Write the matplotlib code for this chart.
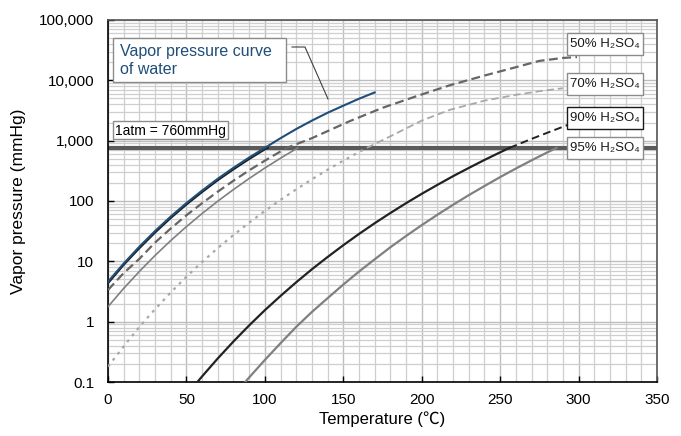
import matplotlib
matplotlib.use("Agg")
import matplotlib.pyplot as plt
from matplotlib.ticker import MultipleLocator, LogLocator, FixedLocator, NullFormatter
from matplotlib.patches import Rectangle
from matplotlib.lines import Line2D

plt.rcParams['font.family'] = ['Liberation Sans', 'Noto Sans CJK JP', 'DejaVu Sans']

# ---------------- data ----------------
t_water = [0, 10, 20, 30, 40, 50, 60, 70, 80, 90, 100, 110, 120, 130, 140, 150, 160, 170]
p_water = [4.6, 9.2, 17.5, 31.8, 55.3, 92.5, 149, 234, 355, 526, 760, 1100, 1560, 2150, 2900, 3800, 4950, 6300]

t_black = [0, 10, 20, 30, 40, 50, 60, 70, 80, 90, 100, 102]
p_black = [4.3, 8.7, 16.4, 29.8, 52, 87, 140, 220, 333, 494, 714, 760]

t_50 = [0, 10, 20, 30, 40, 50, 60, 70, 80, 90, 100, 110, 114, 130, 154, 175, 197, 218, 240, 260, 275, 290, 299]
p_50 = [3.35, 6.4, 11.0, 20.5, 35, 58, 92, 143, 217, 322, 466, 663, 760, 1100, 2100, 3500, 5500, 8300, 12000, 16500, 21000, 23500, 24300]

t_gray = [0, 10, 20, 30, 40, 50, 60, 70, 80, 90, 100, 110, 121]
p_gray = [1.77, 3.56, 6.8, 12.5, 22.1, 37.6, 62, 99.5, 155, 236, 352, 513, 760]

t_70_meas = [0, 10, 20, 30, 40, 50, 60, 70, 80, 90, 100, 110, 120, 130, 140, 150, 160, 165]
p_70_meas = [0.18, 0.39, 0.82, 1.61, 3.05, 5.56, 9.75, 16.6, 27.3, 43.8, 68.4, 104.5, 156, 229, 330, 466, 648, 760]
t_70_ext = [165, 180, 200, 218, 240, 260, 275, 290]
p_70_ext = [760, 1180, 2150, 3250, 4600, 5750, 6600, 7400]

t_90_meas = [57, 60, 70, 80, 90, 100, 110, 120, 130, 140, 150, 160, 170, 180, 190, 200, 210, 220, 230, 240, 250, 256]
p_90_meas = [0.1, 0.124, 0.246, 0.47, 0.867, 1.55, 2.67, 4.5, 7.39, 11.8, 18.5, 28.4, 42.8, 63.2, 91.9, 131.5, 185, 258, 353, 479, 641, 760]
t_90_ext = [256, 270, 280, 293]
p_90_ext = [760, 1070, 1350, 1820]

t_95 = [87.5, 90, 100, 110, 120, 130, 140, 150, 160, 170, 180, 190, 200, 210, 220, 230, 240, 250, 260, 270, 280, 286]
p_95 = [0.1, 0.119, 0.232, 0.44, 0.82, 1.45, 2.45, 4.12, 6.76, 10.8, 17.1, 26.3, 39.8, 59.2, 86.6, 125, 177, 249, 345, 472, 638, 760]

atm = 760
y_ticks = [0.1, 1, 10, 100, 1000, 10000, 100000]
y_tick_labels = ["0.1", "1", "10", "100", "1,000", "10,000", "100,000"]
x_ticks = [0, 50, 100, 150, 200, 250, 300, 350]

label_water = "Vapor pressure curve\nof water"
label_atm = "1atm = 760mmHg"
labels_acid = ["50% H\u2082SO\u2084", "70% H\u2082SO\u2084", "90% H\u2082SO\u2084", "95% H\u2082SO\u2084"]

# ---------------- figure ----------------
W, H = 681, 436
fig = plt.figure(figsize=(W / 100, H / 100), dpi=100)
L, R, T, B = 108, 657, 20, 382
ax = fig.add_axes([L / W, 1 - B / H, (R - L) / W, (B - T) / H])

ax.set_yscale('log')
ax.set_xlim(0, 350)
ax.set_ylim(0.1, 100000)

ax.xaxis.set_major_locator(FixedLocator(x_ticks))
ax.xaxis.set_minor_locator(MultipleLocator(10))
ax.yaxis.set_major_locator(FixedLocator(y_ticks))
ax.set_yticklabels(y_tick_labels)
ax.yaxis.set_minor_locator(LogLocator(base=10, subs=[2, 3, 4, 5, 6, 7, 8, 9], numticks=20))
ax.yaxis.set_minor_formatter(NullFormatter())

ax.grid(True, which='major', color='#bdbdbd', linewidth=1.0, zorder=0)
ax.grid(True, which='minor', color='#cfcfcf', linewidth=0.9, zorder=0)
ax.set_axisbelow(True)

ax.tick_params(which='major', direction='in', length=4, width=1, color='black',
               labelsize=11, pad=10)
ax.tick_params(axis='x', which='major', pad=8)
ax.tick_params(which='minor', length=0)

for s in ['left', 'bottom']:
    ax.spines[s].set_color('black')
    ax.spines[s].set_linewidth(1.2)
for s in ['top', 'right']:
    ax.spines[s].set_color('#555555')
    ax.spines[s].set_linewidth(1.2)

ax.set_xlabel("Temperature (\u2103)", fontsize=12, labelpad=3)
ax.set_ylabel("Vapor pressure (mmHg)", fontsize=12.5, labelpad=9)

# 1 atm line
ax.axhline(atm, color='#5a5a5a', linewidth=3.0, zorder=2)

# curves
ax.plot(t_gray, p_gray, color='#808080', linewidth=1.2, zorder=3)
ax.plot(t_50, p_50, color='#666666', linewidth=1.6, dashes=(4, 2), zorder=3)
ax.plot(t_70_meas, p_70_meas, color='#a8a8a8', linewidth=1.6, dashes=(1.3, 2.2), zorder=3)
ax.plot(t_70_ext, p_70_ext, color='#a8a8a8', linewidth=1.3, dashes=(4, 2.2), zorder=3)
ax.plot(t_95, p_95, color='#808080', linewidth=1.6, zorder=3)
ax.plot(t_90_meas, p_90_meas, color='#222222', linewidth=1.6, zorder=3)
ax.plot(t_90_ext, p_90_ext, color='#222222', linewidth=1.4, dashes=(4, 2.2), zorder=3)
ax.plot(t_black, p_black, color='#1a1a1a', linewidth=1.3, zorder=4)
ax.plot(t_water, p_water, color='#1f4e79', linewidth=1.5, zorder=5)


def px2fig(x, y):
    return x / W, 1 - y / H


def box(x0, y0, x1, y1, edge='#8c8c8c', lw=1.0):
    fx0, fy1 = px2fig(x0, y1)
    r = Rectangle((fx0, fy1), (x1 - x0) / W, (y1 - y0) / H, transform=fig.transFigure,
                  facecolor='white', edgecolor=edge, linewidth=lw, zorder=10)
    fig.add_artist(r)


# water label box + leader
box(113, 38, 286, 82)
fx, fy = px2fig(120, 60)
fig.text(fx, fy, label_water, color='#1f4e79', fontsize=11.5, ha='left', va='center',
         linespacing=1.25, zorder=11)
xs = [292 / W, 305 / W, 328 / W]
ys = [1 - 47 / H, 1 - 47 / H, 1 - 99 / H]
fig.add_artist(Line2D(xs, ys, transform=fig.transFigure, color='#404040', linewidth=0.8, zorder=10))

# 1atm box
box(113, 121, 228, 139)
fx, fy = px2fig(170.5, 130.5)
fig.text(fx, fy, label_atm, color='black', fontsize=10, ha='center', va='center', zorder=11)

# acid label boxes
acid_boxes = [(567, 33, 643, 55, '#8c8c8c'), (567, 73, 643, 95, '#8c8c8c'),
              (567, 107, 643, 129, '#1a1a1a'), (567, 137, 643, 159, '#8c8c8c')]
for (x0, y0, x1, y1, ec), lab in zip(acid_boxes, labels_acid):
    box(x0, y0, x1, y1, edge=ec)
    fx, fy = px2fig((x0 + x1) / 2, (y0 + y1) / 2)
    fig.text(fx, fy, lab, color='#1a1a1a', fontsize=9.5, ha='center', va='center', zorder=11)

fig.savefig("out.png", dpi=100)
